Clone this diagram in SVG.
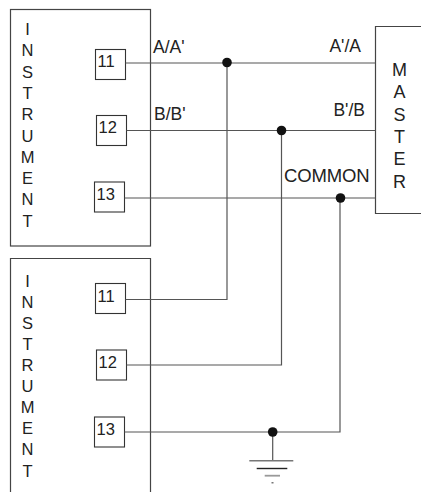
<svg xmlns="http://www.w3.org/2000/svg" width="421" height="492" viewBox="0 0 421 492">
<style>
.box{fill:none;stroke:#444;stroke-width:1.2}
.term{fill:#fff;stroke:#333;stroke-width:1.1}
.wire{fill:none;stroke:#555;stroke-width:1.2}
.dot{fill:#111}
text{font-family:"Liberation Sans",Arial,sans-serif;fill:#222}
.num{font-size:16.5px}
.vert{font-size:16.5px;text-anchor:middle}
.mast{font-size:18px;text-anchor:middle}
.lbl{font-size:17.5px}
.lblr{font-size:17.5px;text-anchor:end}
.com{font-size:18.5px}
</style>
<rect width="421" height="492" fill="#fff"/>
<g id="instrument-top">
<rect class="box" x="10.5" y="9.5" width="140" height="236.5"/>
<text class="vert" x="27.5" y="35">I</text>
<text class="vert" x="27.5" y="56.3">N</text>
<text class="vert" x="27.5" y="77.6">S</text>
<text class="vert" x="27.5" y="98.9">T</text>
<text class="vert" x="27.5" y="120.2">R</text>
<text class="vert" x="27.5" y="141.5">U</text>
<text class="vert" x="27.5" y="162.8">M</text>
<text class="vert" x="27.5" y="184.1">E</text>
<text class="vert" x="27.5" y="205.4">N</text>
<text class="vert" x="27.5" y="226.7">T</text>
</g>
<g id="t1-11"><rect class="term" x="95.5" y="49.5" width="30" height="30"/><text class="num" x="97.5" y="67">11</text></g>
<g id="t1-12"><rect class="term" x="96.5" y="115.5" width="30" height="30"/><text class="num" x="98.5" y="133.3">12</text></g>
<g id="t1-13"><rect class="term" x="94.5" y="182" width="30" height="30"/><text class="num" x="96.5" y="200">13</text></g>
<g id="instrument-bottom">
<path class="box" d="M10.5,500 V258.5 H150.5 V500"/>
<text class="vert" x="27.5" y="286.5">I</text>
<text class="vert" x="27.5" y="307.6">N</text>
<text class="vert" x="27.5" y="328.7">S</text>
<text class="vert" x="27.5" y="349.8">T</text>
<text class="vert" x="27.5" y="370.9">R</text>
<text class="vert" x="27.5" y="392">U</text>
<text class="vert" x="27.5" y="413.1">M</text>
<text class="vert" x="27.5" y="434.2">E</text>
<text class="vert" x="27.5" y="455.3">N</text>
<text class="vert" x="27.5" y="476.5">T</text>
</g>
<g id="t2-11"><rect class="term" x="95.5" y="283.5" width="30" height="30"/><text class="num" x="97.5" y="301.5">11</text></g>
<g id="t2-12"><rect class="term" x="96.5" y="350" width="30" height="30"/><text class="num" x="98.5" y="368">12</text></g>
<g id="t2-13"><rect class="term" x="94.5" y="417" width="30" height="30"/><text class="num" x="96.5" y="435">13</text></g>
<g id="master">
<path class="box" d="M425,26.5 H375.5 V213.5 H425"/>
<text class="mast" x="399.5" y="76">M</text>
<text class="mast" x="399.5" y="98.3">A</text>
<text class="mast" x="399.5" y="120.6">S</text>
<text class="mast" x="399.5" y="142.9">T</text>
<text class="mast" x="399.5" y="165.2">E</text>
<text class="mast" x="399.5" y="187.5">R</text>
</g>
<g id="connectors">
<path class="wire" d="M125.5,63 H375.5"/>
<path class="wire" d="M126.5,130.5 H375.5"/>
<path class="wire" d="M124.5,198 H375.5"/>
<path class="wire" d="M125.5,299.5 H227 V63"/>
<path class="wire" d="M126.5,365 H281.5 V130.5"/>
<path class="wire" d="M124.5,432 H340 V198"/>
<path class="wire" d="M272.7,432 V460.5"/>
<circle class="dot" cx="227" cy="62.5" r="4.8"/>
<circle class="dot" cx="281.5" cy="130.5" r="4.8"/>
<circle class="dot" cx="340.5" cy="198" r="4.8"/>
<circle class="dot" cx="272.7" cy="432" r="4.8"/>
<text class="lbl" x="153" y="52.7">A/A'</text>
<text class="lbl" x="154" y="120">B/B'</text>
<text class="lblr" x="361" y="51.5">A'/A</text>
<text class="lblr" x="365" y="116">B'/B</text>
<text class="com" x="284" y="181.5" textLength="85.5">COMMON</text>
</g>
<g id="ground">
<line x1="249.3" y1="460.7" x2="293.3" y2="460.7" stroke="#777" stroke-width="1.6"/>
<line x1="256.7" y1="468.5" x2="287.3" y2="468.5" stroke="#222" stroke-width="1.4"/>
<line x1="264.7" y1="475.7" x2="280" y2="475.7" stroke="#999" stroke-width="1.8"/>
<rect x="271.5" y="482" width="2" height="1.5" fill="#777"/>
</g>
</svg>
